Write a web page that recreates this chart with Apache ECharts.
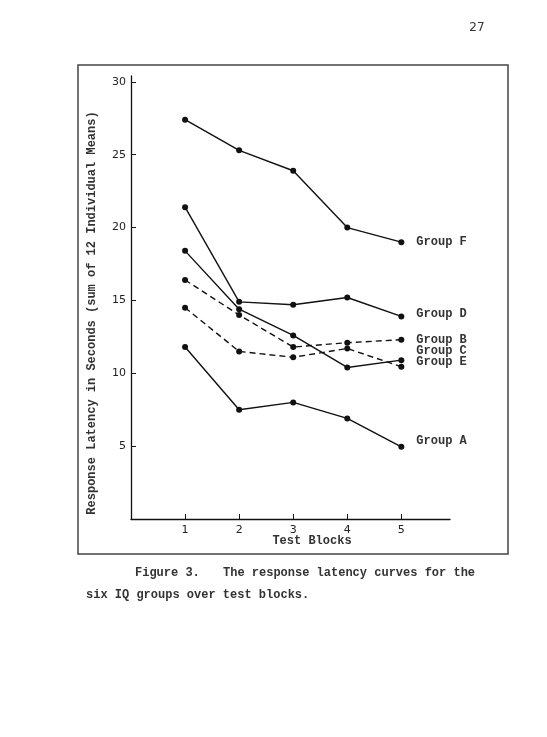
<!DOCTYPE html>
<html>
<head>
<meta charset="utf-8">
<script src="https://cdn.jsdelivr.net/npm/echarts@6/dist/echarts.min.js"></script>
<style>
  html, body { margin: 0; padding: 0; background: #fff; }
  #container { width: 547px; height: 737px; }
</style>
</head>
<body>
<div id="container"></div>
<script>
// test blocks on the x axis
var blocks = [1, 2, 3, 4, 5];
var yTicks = [5, 10, 15, 20, 25, 30];

// response latency (sum of 12 individual means)
var groupA = [11.8, 7.5, 8.0, 6.9, 4.95];
var groupB = [16.4, 14.0, 11.8, 12.1, 12.3];
var groupC = [14.5, 11.5, 11.1, 11.7, 10.45];
var groupD = [21.4, 14.9, 14.7, 15.2, 13.9];
var groupE = [18.4, 14.4, 12.6, 10.4, 10.9];
var groupF = [27.4, 25.3, 23.9, 20.0, 19.0];

var mono = '"Liberation Mono", "DejaVu Sans Mono", monospace';
var ink = '#111';

var myChart = echarts.init(document.getElementById('container'));

function pairs(vals) {
    return blocks.map(function (b, i) { return [b, vals[i]]; });
}

function makeSeries(name, vals, dashed, labelDy) {
    return {
        name: name,
        type: 'line',
        data: pairs(vals),
        symbol: 'circle',
        symbolSize: 6,
        itemStyle: { color: ink },
        lineStyle: {
            color: ink,
            width: 1.4,
            type: dashed ? [6, 4] : 'solid'
        },
        endLabel: {
            show: true,
            formatter: name,
            distance: 15,
            offset: [0, labelDy],
            fontFamily: mono,
            fontSize: 12,
            fontWeight: 'bold',
            color: '#333'
        },
        emphasis: { disabled: true }
    };
}

var option = {
    animation: false,
    backgroundColor: '#fff',
    grid: { left: 131, right: 97, top: 76, bottom: 218 },
    xAxis: {
        type: 'value',
        min: 0,
        max: 5.9,
        axisLine: { lineStyle: { color: ink, width: 1.3 } },
        axisTick: { inside: true, length: 5, customValues: blocks, lineStyle: { color: ink } },
        axisLabel: { customValues: blocks, margin: 6, fontSize: 11, color: '#222', fontFamily: 'DejaVu Sans' },
        splitLine: { show: false }
    },
    yAxis: {
        type: 'value',
        min: 0,
        max: 30.4,
        axisLine: { show: true, lineStyle: { color: ink, width: 1.3 } },
        axisTick: { show: true, inside: true, length: 5, customValues: yTicks, lineStyle: { color: ink } },
        axisLabel: { customValues: yTicks, margin: 5, fontSize: 11, color: '#222', fontFamily: 'DejaVu Sans' },
        splitLine: { show: false }
    },
    series: [
        makeSeries('Group F', groupF, false, 0),
        makeSeries('Group D', groupD, false, -2),
        makeSeries('Group B', groupB, true, 0),
        makeSeries('Group C', groupC, true, -16),
        makeSeries('Group E', groupE, false, 2),
        makeSeries('Group A', groupA, false, -6)
    ],
    graphic: [
        {
            type: 'rect',
            shape: { x: 78, y: 65, width: 430, height: 489 },
            style: { fill: 'none', stroke: '#444', lineWidth: 1.5 },
            silent: true
        },
        {
            type: 'text', x: 92, y: 313, rotation: Math.PI / 2,
            style: {
                text: 'Response Latency in Seconds (sum of 12 Individual Means)',
                font: 'bold 12px ' + mono, fill: '#333',
                textAlign: 'center', textVerticalAlign: 'middle'
            }
        },
        {
            type: 'text', x: 312, y: 541,
            style: {
                text: 'Test Blocks', font: 'bold 12px ' + mono, fill: '#333',
                textAlign: 'center', textVerticalAlign: 'middle'
            }
        },
        {
            type: 'text', x: 477, y: 28,
            style: {
                text: '27', font: '12px "DejaVu Sans"', fill: '#333',
                textAlign: 'center', textVerticalAlign: 'middle'
            }
        },
        {
            type: 'text', x: 135, y: 573,
            style: { text: 'Figure 3.', font: 'bold 12px ' + mono, fill: '#333', textVerticalAlign: 'middle' }
        },
        {
            type: 'text', x: 223, y: 573,
            style: { text: 'The response latency curves for the', font: 'bold 12px ' + mono, fill: '#333', textVerticalAlign: 'middle' }
        },
        {
            type: 'text', x: 86, y: 595,
            style: { text: 'six IQ groups over test blocks.', font: 'bold 12px ' + mono, fill: '#333', textVerticalAlign: 'middle' }
        }
    ]
};

myChart.setOption(option);
</script>
</body>
</html>
